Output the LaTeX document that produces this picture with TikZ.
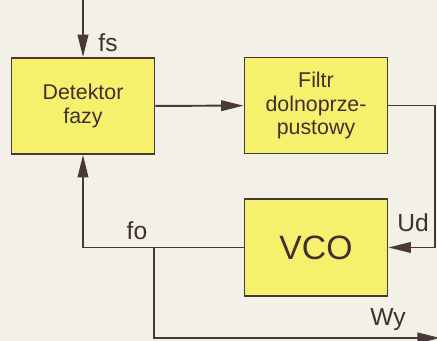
\documentclass[tikz,border=0pt]{standalone}
\usepackage{fontspec}
\setmainfont{Liberation Sans}
\usepackage{tikz}
\usetikzlibrary{arrows.meta}
\definecolor{paper}{HTML}{F3F0E8}
\definecolor{zolty}{HTML}{F6F16C}
\definecolor{linia}{HTML}{4A3838}
\definecolor{napis}{HTML}{3E3030}

\begin{document}
\begin{tikzpicture}[x=0.025cm, y=-0.025cm, line width=1.4pt, draw=linia,
    >={Triangle[length=16pt,width=7.5pt]},
    blok/.style={draw=linia, line width=1.3pt, fill=zolty, text=napis, align=center,
        minimum width=3.575cm, minimum height=2.4cm, inner sep=0pt,
        font=\fontsize{15.2}{16.8}\selectfont},
    opis/.style={text=napis, inner sep=0pt, font=\fontsize{17.5}{20}\selectfont}]
            \useasboundingbox (0,0) rectangle (437,341);
            \fill[paper] (0,0) rectangle (437,341);
            \node[blok] (DF) at (83,106) {Detektor\\fazy};
            \node[blok] (FD) at (316,105.5) {Filtr\\dolnoprze-\\pustowy};
            \node[blok, minimum height=2.425cm, font=\fontsize{24}{28}\selectfont] (VCO) at (316,247.5) {VCO};
            
            \coordinate (FS) at (83,0);
            \coordinate (R) at (435,247.5);
            \coordinate (B) at (154,247.5);
            \coordinate (WY) at (440,338);
            
            \node[opis] (fs) at (108,43) {fs};
            \node[opis] (fo) at (137,231) {fo};
            \node[opis] (Ud) at (413,223) {Ud};
            \node[opis] (Wy) at (388,320) {Wy};
            
            \draw[->, color=linia] (FS) -- (DF);
            \draw[->, color=linia] (DF) -- (FD);
            \draw[->, color=linia] (FD.east) -| (R) -- (VCO.east);
            \draw[->, color=linia] (VCO.west) -| (DF.south);
            \draw[->, color=linia] (B) |- (WY);
        \end{tikzpicture}
\end{document}
